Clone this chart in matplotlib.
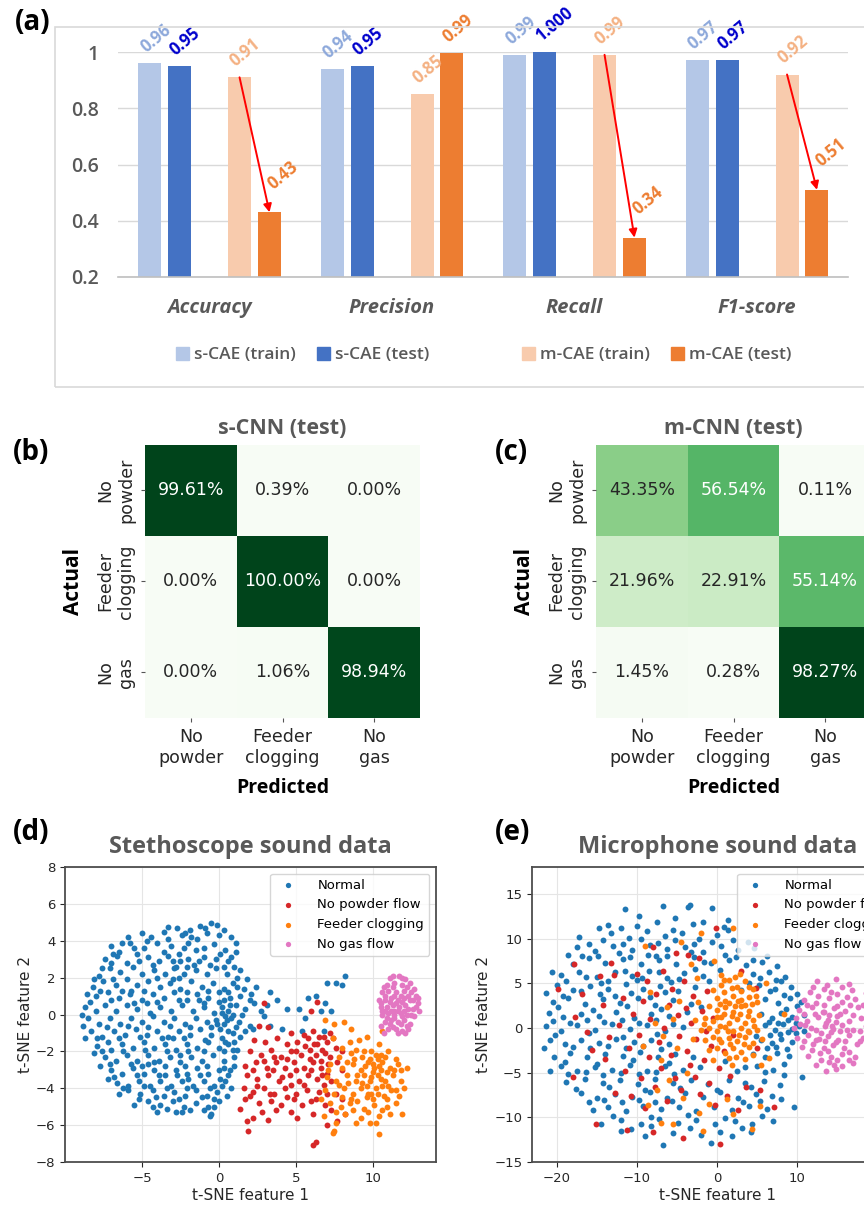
import numpy as np
import matplotlib.pyplot as plt
import seaborn as sns
from matplotlib.patches import Rectangle, Patch

plt.rcParams['font.family'] = ['DejaVu Sans']

W, H = 864, 1207

# ---------------- panel (a) data ----------------
metrics = ['Accuracy', 'Precision', 'Recall', 'F1-score']
series_names = ['s-CAE (train)', 's-CAE (test)', 'm-CAE (train)', 'm-CAE (test)']
s_cae_train = [0.96, 0.94, 0.99, 0.97]
s_cae_test = [0.95, 0.95, 1.00, 0.97]
m_cae_train = [0.91, 0.85, 0.99, 0.92]
m_cae_test = [0.43, 0.995, 0.34, 0.51]
s_cae_train_lbl = ['0.96', '0.94', '0.99', '0.97']
s_cae_test_lbl = ['0.95', '0.95', '1.000', '0.97']
m_cae_train_lbl = ['0.91', '0.85', '0.99', '0.92']
m_cae_test_lbl = ['0.43', '0.99', '0.34', '0.51']
drop_arrow = [True, False, True, True]

# ---------------- panel (b), (c) data ----------------
classes = ['No\npowder', 'Feeder\nclogging', 'No\ngas']
cm_s = [[99.61, 0.39, 0.00],
        [0.00, 100.00, 0.00],
        [0.00, 1.06, 98.94]]
cm_m = [[43.35, 56.54, 0.11],
        [21.96, 22.91, 55.14],
        [1.45, 0.28, 98.27]]

# ---------------- panel (d) data (t-SNE, stethoscope) ----------------
steth_normal = [
    (-2.7, 4.7), (-1.9, 4.6), (-0.5, 4.95), (-0.1, 4.85), (-1.2, 4.8), (-3.3, 4.75),
    (-5.0, 4.4), (-4.4, 4.2), (-3.6, 4.5), (-2.4, 4.3), (-1.4, 4.1), (-0.8, 4.4), (0.3, 4.6), (0.8, 4.2), (1.1, 3.9), (-6.3, 3.9),
    (-7.0, 3.7), (-5.8, 3.9), (-4.9, 3.6), (-4.0, 3.9), (-3.1, 3.7), (-2.0, 3.9), (-0.3, 3.8), (0.4, 3.5), (1.1, 3.4), (-1.5, 3.5), (-5.3, 3.3), (-2.6, 3.3),
    (-7.4, 3.0), (-6.6, 3.2), (-6.0, 2.8), (-4.6, 3.1), (-3.9, 2.9), (-3.3, 3.2), (-2.5, 2.9), (-2.0, 3.0), (-1.6, 2.7), (-1.0, 3.1), (-0.2, 3.0), (0.6, 2.9), (1.0, 2.6), (-2.8, 2.6), (-4.3, 2.7),
    (-7.8, 2.1), (-7.1, 2.5), (-6.4, 2.3), (-5.6, 2.6), (-5.0, 2.2), (-4.2, 2.4), (-3.5, 2.2), (-2.9, 2.5), (-2.3, 2.2), (-1.5, 2.4), (-0.8, 2.2), (-0.2, 2.5), (0.5, 2.2), (1.2, 2.0), (-6.9, 1.9), (-3.0, 1.9),
    (-8.2, 1.5), (-7.5, 1.8), (-6.7, 1.6), (-6.0, 1.9), (-5.3, 1.6), (-4.6, 1.8), (-3.8, 1.5), (-3.2, 1.7), (-2.5, 1.4), (-1.8, 1.8), (-1.1, 1.5), (-0.4, 1.7), (0.3, 1.4), (0.9, 1.7), (1.6, 1.4), (2.4, 1.5), (-5.7, 1.3),
    (-8.0, 1.0), (-7.2, 1.2), (-6.5, 0.9), (-5.8, 1.1), (-5.0, 0.8), (-4.3, 1.1), (-3.6, 0.9), (-2.9, 1.2), (-2.1, 0.8), (-1.4, 1.1), (-0.7, 0.9), (0.0, 1.2), (0.7, 0.9), (1.4, 1.0), (2.0, 0.8), (-4.7, 0.6), (-1.0, 0.6),
    (-8.7, 0.4), (-8.0, 0.2), (-7.4, 0.5), (-6.7, 0.2), (-6.0, 0.5), (-5.3, 0.3), (-4.5, 0.1), (-3.8, 0.4), (-3.1, 0.2), (-2.4, 0.5), (-1.7, 0.2), (-1.0, 0.4), (-0.3, 0.1), (0.2, 0.4), (0.6, 0.2), (1.1, 0.5), (1.7, 0.3), (2.3, 0.6), (2.7, 0.2), (0.0, 0.7), (0.4, -0.1),
    (-8.5, -0.2), (-7.8, -0.5), (-7.1, -0.2), (-6.4, -0.5), (-5.7, -0.2), (-5.0, -0.4), (-4.3, -0.1), (-3.6, -0.4), (-2.9, -0.2), (-2.2, -0.5), (-1.5, -0.2), (-0.8, -0.4), (-0.2, -0.3), (0.3, -0.5), (0.8, -0.2), (1.3, -0.4), (2.0, -0.6), (0.1, -0.8), (0.6, -0.9),
    (-8.3, -0.9), (-7.6, -1.2), (-6.8, -0.9), (-6.1, -1.1), (-5.4, -0.8), (-4.7, -1.1), (-4.0, -0.9), (-3.3, -1.2), (-2.6, -0.9), (-1.9, -1.1), (-1.2, -0.8), (-0.5, -1.1), (0.2, -1.3), (0.9, -1.0), (1.4, -1.2), (-7.2, -1.5),
    (-7.9, -1.7), (-7.0, -1.9), (-6.3, -1.6), (-5.6, -1.8), (-4.9, -1.5), (-4.2, -1.8), (-3.5, -1.6), (-2.8, -1.9), (-2.1, -1.6), (-1.4, -1.8), (-0.7, -1.5), (0.0, -1.8), (0.6, -1.6), (1.2, -1.9), (-3.0, -1.3),
    (-7.4, -2.3), (-6.7, -2.5), (-6.0, -2.2), (-5.3, -2.5), (-4.6, -2.2), (-3.9, -2.5), (-3.2, -2.3), (-2.5, -2.6), (-1.8, -2.3), (-1.1, -2.5), (-0.4, -2.2), (0.3, -2.5), (1.0, -2.3), (-5.0, -2.8), (-2.0, -2.0),
    (-7.0, -3.0), (-6.3, -3.2), (-5.6, -2.9), (-4.9, -3.2), (-4.2, -3.0), (-3.5, -3.3), (-2.8, -3.0), (-2.1, -3.2), (-1.4, -2.9), (-0.7, -3.2), (0.0, -3.0), (0.6, -3.3), (-4.6, -2.7),
    (-6.6, -3.7), (-5.9, -3.9), (-5.2, -3.6), (-4.5, -3.9), (-3.8, -3.6), (-3.1, -3.9), (-2.4, -3.6), (-1.7, -3.9), (-1.0, -3.6), (-0.3, -3.9), (0.4, -3.6), (0.8, -4.0), (-2.7, -3.3),
    (-5.9, -4.1), (-5.1, -4.3), (-4.3, -4.1), (-3.6, -4.4), (-2.9, -4.2), (-2.2, -4.4), (-1.5, -4.1), (-0.8, -4.4), (-0.1, -4.2), (0.5, -4.4),
    (-4.6, -4.7), (-3.8, -4.9), (-3.0, -4.7), (-2.3, -5.0), (-1.5, -4.8), (-0.7, -5.0), (0.0, -4.7), (-3.4, -5.1),
    (-2.4, -5.3), (-0.5, -5.4), (-0.6, -5.5), (-1.9, -5.2),
    (3.3, 1.2), (3.1, 0.5), (3.8, 0.8), (4.4, 0.3), (5.2, 0.3), (5.6, -0.2), (5.8, 0.9), (6.3, 1.0), (6.6, 0.2), (7.0, 1.7), (7.6, 1.7),
    (7.3, 0.2), (8.2, 2.1), (8.0, 1.6), (4.1, -0.8), (5.4, -0.9), (3.3, -0.6), (6.8, -0.9), (2.9, -0.1), (2.2, -0.8), (1.8, 1.9), (6.9, 0.6),
]
steth_normal += [
    (-2.2, 4.4), (-0.9, 4.7), (-4.7, 4.0), (-3.3, 4.1), (-1.8, 4.2), (0.0, 4.3),
    (-6.5, 3.4), (-5.5, 3.6), (-3.6, 3.4), (-2.3, 3.6), (-1.0, 3.6), (0.1, 3.3), (0.8, 3.1),
    (-7.0, 2.8), (-5.2, 2.9), (-3.0, 2.9), (-2.1, 2.6), (-1.3, 2.9), (-0.6, 2.7), (0.3, 2.6), (1.4, 2.4), (-2.6, 2.0),
    (-7.7, 1.3), (-6.3, 1.3), (-4.9, 1.3), (-4.0, 2.0), (-2.1, 1.2), (-0.7, 1.3), (0.6, 1.2), (1.2, 1.5), (2.1, 1.1),
    (-8.4, 0.7), (-7.0, 0.8), (-5.5, 0.6), (-4.0, 0.7), (-2.6, 0.8), (-1.3, 0.8), (0.3, 0.8), (0.9, 0.0), (1.5, 0.0),
    (0.2, 0.1), (0.5, -0.3), (-0.1, -0.5), (0.7, 0.5),
    (-8.8, -0.6), (-7.3, -0.7), (-5.9, -0.6), (-4.6, -0.7), (-3.2, -0.6), (-1.9, -0.7), (-0.5, -0.7), (1.1, -0.7), (1.7, -0.9),
    (-7.9, -1.3), (-6.5, -1.3), (-5.1, -1.2), (-3.7, -1.3), (-2.3, -1.3), (-0.9, -1.4), (0.4, -1.5), (1.0, -1.5),
    (-7.6, -2.0), (-6.2, -2.0), (-4.8, -1.9), (-3.4, -2.0), (-2.5, -2.2), (-1.0, -2.0), (0.3, -2.0), (0.9, -1.9),
    (-7.1, -2.7), (-5.7, -2.7), (-4.2, -2.6), (-3.5, -2.8), (-2.2, -2.8), (-0.8, -2.8), (0.3, -2.9), (1.0, -2.8),
    (-6.8, -3.4), (-5.3, -3.3), (-3.9, -3.3), (-2.0, -3.5), (-1.2, -3.3), (0.1, -3.5), (0.7, -3.0),
    (-6.2, -4.0), (-4.9, -3.9), (-3.4, -4.0), (-2.1, -4.0), (-0.6, -4.0), (0.2, -3.9),
    (-5.2, -4.6), (-4.1, -4.5), (-2.6, -4.6), (-1.1, -4.5), (-0.3, -4.6),
    (-4.3, -5.0), (-2.8, -5.3), (-1.0, -5.2), (-0.3, -5.0),
    (-5.9, 4.2), (-6.9, 3.3), (-7.6, 2.5), (-8.1, 1.9), (-8.6, 1.1), (-8.9, 0.0), (-8.7, -1.3),
    (-8.1, -2.1), (-7.7, -2.8), (-7.2, -3.5), (-6.5, -4.3), (-5.5, -4.9), (-4.0, -5.3),
]
steth_no_powder = [
    (2.9, 0.6), (6.0, 0.2), (6.4, 0.7), (2.6, -0.6), (3.2, -0.7),
    (4.7, -1.0), (5.5, -1.1), (6.1, -0.9), (6.8, -1.2), (7.2, -1.0),
    (2.3, -1.4), (3.0, -1.5), (3.8, -1.3), (4.4, -1.6), (5.1, -1.5), (5.8, -1.3), (6.4, -1.6), (7.0, -1.5), (7.6, -1.8),
    (2.0, -2.0), (2.7, -2.2), (3.4, -1.9), (4.0, -2.3), (4.7, -2.0), (5.3, -2.2), (5.9, -1.9), (6.3, -2.2), (6.7, -1.9), (7.2, -2.3), (8.0, -2.0),
    (1.7, -2.8), (2.4, -2.6), (3.1, -2.9), (3.7, -2.6), (4.3, -2.9), (4.9, -2.6), (5.5, -2.9), (6.1, -2.6), (6.6, -2.9), (7.1, -2.7), (7.7, -2.6),
    (1.8, -3.3), (2.5, -3.5), (3.2, -3.3), (3.9, -3.6), (4.6, -3.3), (5.2, -3.6), (5.8, -3.3), (6.4, -3.5), (7.0, -3.2),
    (1.6, -4.0), (2.2, -4.2), (2.9, -4.0), (3.6, -4.3), (4.3, -4.0), (5.0, -4.3), (5.7, -4.1), (6.5, -4.2), (7.6, -4.3),
    (1.7, -4.6), (2.6, -4.8), (3.4, -4.7), (4.0, -4.9), (4.9, -4.6), (6.0, -4.7), (6.9, -4.9), (8.0, -4.6),
    (1.4, -5.1), (2.2, -5.6), (1.8, -5.8), (3.2, -5.7), (4.7, -5.3), (6.1, -5.4), (7.3, -5.2), (7.7, -5.8), (8.2, -5.4),
    (1.9, -6.3), (6.1, -7.1), (6.3, -6.9), (7.0, -6.0),
    (5.9, -2.4), (6.2, -1.6), (6.6, -2.5), (6.9, -2.1), (6.0, -3.0), (5.6, -1.7), (6.5, -1.2), (7.4, -1.3), (5.0, -2.0),
    (4.4, -2.4), (3.6, -2.3), (2.9, -2.5), (2.2, -3.0), (3.5, -3.0), (4.1, -3.4), (5.0, -3.0), (5.5, -3.8), (6.8, -3.8),
    (4.7, -3.8), (3.3, -4.3), (2.5, -3.9), (2.0, -4.4), (4.4, -4.5), (5.4, -4.9), (6.3, -4.6), (7.0, -4.3), (3.7, -5.2),
    (2.8, -5.3), (5.1, -5.6), (7.3, -3.6), (6.7, -3.3), (8.0, -3.0),
]
steth_clogging = [
    (6.9, -0.3), (7.5, -0.5), (8.1, -0.4), (8.6, -0.8), (7.4, -1.3), (9.1, -1.4), (9.6, -1.2), (10.4, -1.6), (10.6, -0.9), (8.0, -1.8),
    (7.8, -2.3), (8.6, -2.1), (9.3, -2.3), (9.9, -2.0), (10.5, -2.2), (11.0, -2.0), (11.5, -2.4), (8.9, -1.9),
    (7.2, -2.7), (8.0, -2.9), (8.7, -2.7), (9.2, -3.0), (9.7, -2.6), (10.1, -2.9), (10.6, -2.6), (11.1, -2.9), (11.6, -2.7), (12.2, -2.9), (10.3, -2.4), (9.5, -2.8),
    (7.0, -3.4), (7.6, -3.6), (8.3, -3.3), (8.9, -3.6), (9.4, -3.3), (9.8, -3.6), (10.3, -3.3), (10.8, -3.6), (11.3, -3.3), (11.8, -3.6), (10.0, -3.1), (10.6, -3.9), (9.6, -3.9),
    (6.9, -4.1), (7.5, -4.3), (8.1, -4.0), (8.7, -4.3), (9.2, -4.0), (9.7, -4.3), (10.2, -4.0), (10.7, -4.4), (11.2, -4.1), (11.7, -4.4), (10.0, -4.6), (9.0, -4.7),
    (7.2, -4.8), (7.9, -5.0), (8.5, -4.8), (9.4, -5.1), (10.1, -4.9), (10.9, -5.0), (11.5, -4.8), (8.2, -5.4), (9.2, -5.6), (10.4, -5.5), (11.9, -5.4),
    (7.6, -5.9), (8.9, -5.9), (9.8, -5.9), (7.5, -6.3), (7.4, -6.4), (10.4, -6.5), (6.8, -5.5), (6.6, -4.6), (8.4, -3.7), (9.9, -4.3), (10.5, -3.0),
    (9.8, -2.4), (10.2, -2.2), (10.8, -2.3), (9.4, -2.0), (10.0, -2.7), (10.4, -2.8), (10.9, -3.1), (9.9, -3.4), (10.5, -3.5),
    (11.0, -3.9), (9.3, -3.7), (9.6, -4.5), (10.3, -4.3), (10.9, -4.6), (8.6, -4.6), (8.0, -4.5), (7.8, -3.8), (8.3, -2.6),
    (11.4, -3.0), (11.8, -3.0), (11.5, -4.1), (10.6, -5.2), (9.7, -5.3), (8.7, -5.2), (7.6, -5.3), (10.2, -5.9), (11.1, -5.4),
    (7.1, -3.0), (8.5, -1.5), (12.0, -4.0), (9.0, -3.3), (8.8, -2.4),
]
steth_no_gas = [
    (11.1, 2.0), (11.7, 2.1), (12.1, 1.9), (10.9, 1.6), (11.4, 1.7), (11.9, 1.6), (12.4, 1.7),
    (10.6, 1.2), (11.0, 1.3), (11.5, 1.2), (12.0, 1.3), (12.5, 1.2), (12.8, 1.0),
    (10.4, 0.8), (10.8, 0.8), (11.2, 0.9), (11.6, 0.8), (12.0, 0.9), (12.4, 0.8), (12.9, 0.6),
    (10.5, 0.4), (10.9, 0.4), (11.3, 0.5), (11.7, 0.4), (12.1, 0.5), (12.6, 0.3),
    (10.6, 0.0), (11.0, 0.1), (11.4, 0.0), (11.8, 0.1), (12.2, 0.0), (12.7, -0.1),
    (10.8, -0.4), (11.2, -0.3), (11.6, -0.4), (12.0, -0.3), (12.4, -0.5),
    (11.0, -0.8), (11.5, -0.8), (11.9, -0.9), (12.3, -0.8), (10.7, -1.0),
    (11.3, 1.5), (11.8, 1.0), (11.4, 0.2), (12.3, 0.3), (11.9, -0.1), (11.1, -0.5), (12.6, 0.8), (10.6, 0.2),
    (11.3, 2.1), (11.9, 2.0), (10.7, 1.5), (12.2, 1.5), (12.7, 1.4), (10.8, 1.0), (11.4, 1.0), (12.3, 1.0),
    (10.5, 0.6), (11.1, 0.7), (11.5, 0.6), (11.9, 0.7), (12.8, 0.4), (10.8, 0.2), (11.2, 0.2), (11.6, 0.2),
    (12.0, 0.2), (12.5, 0.0), (10.9, -0.2), (11.4, -0.2), (11.8, -0.5), (12.2, -0.6), (11.3, -0.7), (10.5, -0.6),
    (12.1, -1.0), (11.6, -1.0), (13.0, 0.2), (12.9, 0.9),
]

# ---------------- panel (e) data (t-SNE, microphone) ----------------
mic_normal = [
    (-11.5, 13.3), (-6.8, 13.6), (-3.4, 13.8), (-0.6, 13.4), (1.3, 12.1), (-3.6, 13.5),
    (-13.6, 11.5), (-9.8, 12.5), (-7.5, 11.8), (-5.2, 12.3), (-1.8, 11.9), (1.4, 11.0), (-12.0, 11.2),
    (-16.0, 9.4), (-13.2, 10.6), (-11.0, 10.1), (-8.7, 10.8), (-6.5, 10.3), (-4.4, 10.6), (-2.2, 10.0), (0.0, 10.4), (2.0, 9.8), (3.9, 9.6),
    (-17.5, 9.0), (-15.3, 8.6), (-13.0, 9.2), (-10.6, 8.7), (-8.4, 9.3), (-6.2, 8.8), (-4.0, 9.1), (-1.7, 8.5), (0.5, 9.2), (2.6, 8.7), (4.6, 8.9),
    (-18.0, 7.2), (-16.0, 7.8), (-14.0, 7.3), (-11.8, 7.7), (-9.5, 7.1), (-7.3, 7.6), (-5.1, 7.2), (-2.9, 7.9), (-0.7, 7.3), (1.5, 7.6), (3.6, 7.0), (5.6, 7.4), (7.5, 6.9),
    (-19.5, 5.9), (-17.2, 6.3), (-15.0, 5.7), (-12.8, 6.2), (-10.6, 5.8), (-8.5, 6.4), (-6.3, 5.6), (-4.1, 6.1), (-1.8, 5.8), (0.3, 6.5), (4.5, 6.0), (6.5, 6.3), (8.5, 5.7),
    (-20.0, 4.8), (-18.0, 4.2), (-15.8, 4.7), (-13.6, 4.3), (-11.4, 4.9), (-9.3, 4.4), (-7.1, 4.7), (-4.9, 4.1), (-2.7, 4.6), (3.0, 4.2), (5.2, 4.8), (7.2, 4.3), (9.2, 4.6),
    (-20.5, 2.9), (-18.6, 3.3), (-16.5, 2.7), (-14.3, 3.2), (-12.1, 2.8), (-9.9, 3.4), (-7.7, 2.6), (-5.5, 3.1), (-3.3, 2.7), (6.0, 3.2), (7.6, 2.8), (9.1, 3.3), (10.5, 2.9),
    (-21.0, 1.7), (-19.2, 1.2), (-17.0, 1.6), (-14.8, 1.3), (-12.6, 1.8), (-10.4, 1.1), (-8.2, 1.6), (-6.0, 1.3), (-3.8, 1.8), (5.5, 1.6), (6.8, 1.1), (8.0, 1.7), (9.4, 1.2), (10.8, 1.5),
    (-21.4, 0.2), (-19.5, -0.3), (-17.5, 0.3), (-15.3, -0.2), (-13.1, 0.4), (-10.9, -0.1), (-8.7, 0.3), (-6.5, -0.3), (-4.3, 0.1), (6.0, 0.3), (7.2, -0.2), (8.2, 0.4), (9.3, -0.1), (10.2, 0.2),
    (-20.8, -1.3), (-19.0, -1.8), (-17.0, -1.4), (-14.8, -1.7), (-12.6, -1.2), (-10.4, -1.6), (-8.2, -1.3), (-6.0, -1.8), (5.5, -1.4), (6.8, -1.7), (8.0, -1.2), (9.3, -1.6),
    (-20.3, -3.2), (-18.4, -2.8), (-16.2, -3.3), (-14.0, -2.9), (-11.8, -3.1), (-9.6, -2.7), (-7.4, -3.3), (-5.2, -2.9), (-3.0, -3.2), (4.5, -2.9), (6.0, -3.3), (7.5, -2.8), (9.0, -3.1),
    (-19.5, -4.3), (-17.5, -4.8), (-15.3, -4.4), (-13.1, -4.7), (-10.9, -4.2), (-8.7, -4.8), (-6.5, -4.3), (-4.3, -4.7), (-2.1, -4.4), (2.5, -4.8), (5.0, -4.3), (7.0, -4.7), (10.6, -5.5),
    (-18.8, -6.1), (-16.5, -5.7), (-14.3, -6.2), (-12.1, -5.8), (-9.9, -6.3), (-7.7, -5.7), (-5.5, -6.2), (-3.3, -5.8), (-1.1, -6.3), (1.5, -5.8), (3.5, -6.2), (5.8, -5.9), (7.8, -6.4),
    (-17.0, -7.3), (-15.0, -7.8), (-12.8, -7.4), (-10.6, -7.7), (-8.4, -7.2), (-6.2, -7.8), (-4.0, -7.3), (-1.8, -7.7), (0.4, -7.2), (2.6, -7.8), (4.8, -7.4), (6.8, -7.6),
    (-15.5, -9.2), (-13.6, -8.8), (-11.4, -9.3), (-9.2, -8.7), (-7.0, -9.1), (-4.8, -8.8), (-2.6, -9.3), (-0.4, -8.9), (1.8, -9.2), (4.0, -8.7), (6.2, -9.1), (9.6, -8.8),
    (-14.5, -10.8), (-12.0, -10.3), (-9.5, -10.7), (-7.2, -10.2), (-4.9, -10.6), (-2.6, -10.3), (-0.3, -10.8), (2.2, -10.4), (4.4, -10.7), (7.0, -10.4),
    (-12.0, -11.5), (-9.0, -12.1), (-5.5, -11.8), (-2.0, -12.0), (1.8, -12.1), (4.2, -11.6), (-6.8, -13.1),
    (-14.8, 11.2), (-10.0, 11.4), (-5.5, 11.0), (-3.0, 11.6), (0.9, 11.3),
    (-16.8, 8.1), (-12.2, 8.4), (-7.6, 8.0), (-3.3, 8.5), (1.0, 8.2), (6.2, 8.0),
    (-18.8, 5.3), (-14.5, 5.0), (-10.0, 5.4), (-5.8, 5.1), (-1.0, 5.3), (4.0, 5.0), (8.0, 5.3),
    (-19.8, 2.3), (-15.5, 2.0), (-11.2, 2.4), (-7.0, 2.1), (-2.0, 2.3), (8.6, 2.1), (10.0, 2.4),
    (-20.2, -0.8), (-16.0, -0.6), (-11.8, -1.0), (-7.5, -0.7), (6.6, -0.8), (8.8, -0.5), (4.8, -0.9),
    (-19.0, -3.8), (-15.0, -4.0), (-10.5, -3.6), (-6.0, -3.9), (1.0, -3.7), (8.3, -4.0),
    (-17.6, -6.8), (-13.5, -6.6), (-9.0, -7.0), (-4.6, -6.7), (0.0, -6.9), (4.2, -6.6),
    (-13.0, -9.8), (-8.3, -10.0), (-3.6, -9.7), (1.0, -10.1), (5.6, -9.9),
]
mic_normal += [
    (-17.2, 10.2), (-14.2, 9.8), (-11.8, 9.4), (-9.5, 10.0), (-7.4, 9.5), (-5.3, 9.8), (-2.9, 9.4), (-0.6, 9.6),
    (-18.6, 8.2), (-14.9, 8.1), (-10.9, 7.9), (-8.6, 8.2), (-6.3, 8.1), (-1.6, 7.4), (2.4, 7.9), (4.5, 7.6),
    (-20.6, 6.2), (-16.3, 5.7), (-13.6, 5.2), (-11.5, 6.4), (-9.4, 5.6), (-7.2, 6.2), (-4.8, 5.5), (-2.8, 6.6), (5.4, 5.6), (7.3, 5.4),
    (-21.3, 3.9), (-19.2, 3.6), (-17.0, 4.1), (-14.6, 3.8), (-12.7, 3.6), (-10.7, 3.9), (-8.4, 3.5), (-6.5, 4.0), (6.6, 4.1), (8.3, 3.7), (10.0, 3.8),
    (-20.5, 0.8), (-18.3, 0.6), (-16.2, 0.9), (-14.1, 0.7), (-11.9, 0.9), (-9.8, 0.6), (-7.6, 0.9), (-5.5, 0.4),
    (7.6, 0.6), (8.8, 0.9), (9.9, 0.6), (6.5, 0.7), (7.8, -0.7), (9.8, -0.6), (10.9, -0.3),
    (-21.6, -2.2), (-18.0, -2.1), (-15.9, -2.3), (-13.6, -2.0), (-11.4, -2.3), (-9.2, -2.0), (-7.0, -2.4), (6.2, -2.2), (7.4, -2.1), (8.7, -2.4),
    (-20.8, -4.8), (-18.6, -5.2), (-16.4, -4.9), (-14.2, -5.3), (-12.0, -5.0), (-9.8, -5.1), (-7.6, -4.9), (-5.4, -5.1), (3.5, -4.4), (6.0, -4.9), (8.3, -5.3),
    (-16.0, -8.3), (-14.1, -8.1), (-11.9, -8.3), (-9.8, -8.1), (-7.7, -8.3), (-5.6, -8.2), (3.2, -8.3), (5.3, -8.2), (8.0, -8.0),
    (-10.8, -11.3), (-8.3, -11.0), (-3.4, -11.2), (0.3, -11.6), (3.1, -11.2), (-0.8, -12.9),
]
mic_no_powder = [
    (-19.9, 4.4), (-17.9, 7.1), (-17.7, 1.2), (-16.2, -0.5), (-15.6, -2.5), (-14.6, 5.8), (-14.3, 2.6), (-14.0, -3.5),
    (-13.2, 7.3), (-12.9, 5.9), (-13.5, -1.0), (-12.8, -7.3), (-12.2, 0.3), (-11.8, 3.4), (-11.5, -4.8), (-11.0, -2.2),
    (-11.3, -11.4), (-10.8, -7.6), (-10.5, 1.6), (-10.0, 6.0), (-9.8, -0.8), (-9.5, -5.6), (-9.3, 3.0), (-9.0, -9.0),
    (-8.8, 5.2), (-8.5, -3.3), (-8.4, 1.0), (-8.0, 9.0), (-7.8, -6.6), (-7.6, 3.8), (-7.3, -1.6), (-7.0, -4.5),
    (-6.8, 6.4), (-6.6, 0.0), (-6.3, -8.2), (-6.0, 2.6), (-5.8, -3.0), (-5.6, 4.4), (-5.3, -5.6), (-5.1, 8.4),
    (-4.9, 1.5), (-4.7, -0.9), (-4.5, -7.0), (-4.3, -12.3), (-4.1, 5.2), (-3.9, 2.2), (-3.7, -2.6), (-3.4, -4.2),
    (-3.2, 0.6), (-3.0, 3.6), (-2.8, -5.5), (-2.6, -1.2), (-2.3, 7.8), (-2.1, -7.4), (-1.9, 1.9), (-1.6, -3.6),
    (-1.4, -0.3), (-1.2, 4.1), (-1.0, -6.2), (-0.8, -2.0), (-0.5, 1.1), (-0.3, -8.6), (-0.1, 11.2), (0.2, -4.5),
    (0.4, -13.0), (0.8, -2.6), (1.2, -7.6), (1.6, -5.4), (2.0, -0.8), (2.6, -9.2), (3.0, 6.4), (3.6, -6.6),
    (4.8, 4.5), (5.0, -2.2), (5.4, -7.0), (7.1, -8.9), (-15.1, -10.8), (-18.0, -5.5), (-16.8, 3.8), (-8.0, -11.6), (-3.6, 8.2),
]
mic_clogging = [
    (-0.5, 4.2), (0.5, 4.8), (1.5, 5.4), (2.5, 4.6), (3.5, 5.2), (4.5, 4.4), (0.0, 3.4), (1.0, 3.0), (2.0, 3.6), (3.0, 3.1),
    (4.0, 3.5), (5.0, 2.9), (-1.0, 2.4), (0.0, 2.0), (1.0, 2.3), (2.0, 1.8), (3.0, 2.4), (4.0, 1.9), (5.2, 1.5), (-1.5, 1.1),
    (-0.5, 0.8), (0.5, 1.2), (1.5, 0.6), (2.5, 1.0), (3.5, 0.5), (4.5, 0.9), (-2.0, -0.2), (-1.0, 0.0), (0.0, -0.4), (1.0, 0.1),
    (2.0, -0.3), (3.0, 0.0), (4.0, -0.5), (5.0, -0.2), (-1.5, -1.3), (-0.5, -1.0), (0.5, -1.6), (1.5, -1.1), (2.5, -1.5), (3.5, -1.0),
    (4.5, -1.7), (-1.0, -2.5), (0.0, -2.2), (1.0, -2.8), (2.0, -2.3), (3.0, -2.7), (4.0, -2.1), (-0.5, -3.6), (1.5, -3.4), (3.5, -3.5),
    (0.5, 5.9), (2.8, 6.0), (1.8, -4.2), (-2.4, 2.9), (-2.8, 0.9), (5.6, -1.2), (4.8, 3.6), (0.3, 0.2), (2.2, 2.5), (3.8, -0.3),
    (0.8, 4.0), (1.8, 4.5), (3.0, 4.1), (4.0, 4.6), (0.4, 2.7), (1.5, 2.8), (2.6, 3.0), (3.5, 2.6), (4.4, 2.7), (0.8, 1.6),
    (1.8, 1.3), (2.9, 1.6), (3.9, 1.3), (0.0, 1.2), (1.3, -0.4), (2.7, -0.8), (3.3, -1.8), (1.6, -1.8), (0.2, -1.2), (-1.6, 0.4),
    (4.6, 0.2), (2.4, -3.3), (4.5, -3.0), (0.9, 5.4), (2.2, 5.7),
    (-9.0, 9.2), (-4.5, 9.6), (-2.5, 5.6), (-4.8, 3.0), (-5.5, 1.0), (-6.8, -0.9), (-7.8, 0.5), (-9.2, -2.0), (-5.0, -2.2), (-7.0, -3.6),
    (-3.8, -5.0), (-6.0, -5.8), (-4.2, -7.8), (-7.5, -7.0), (-8.6, -8.6), (-2.2, -9.5), (-1.8, -11.5), (-7.0, -10.6), (-5.5, -10.8), (-1.0, -8.5),
    (1.2, -8.0), (2.0, -9.6), (4.4, -11.3), (5.4, -8.7), (5.5, -4.2), (6.5, -3.4), (8.4, 1.6), (6.1, 5.0), (-3.3, 7.1), (-0.4, 7.5),
    (2.0, 11.2), (-2.0, 10.6), (-8.4, 4.0), (-3.0, -1.2), (-6.2, 2.3),
]
mic_no_gas = [
    (12.5, 5.2), (14.8, 5.5), (16.4, 4.9), (13.7, 4.8),
    (11.6, 4.0), (13.4, 4.3), (15.0, 3.8), (16.8, 4.2), (18.6, 3.9),
    (10.8, 3.1), (12.4, 2.8), (14.0, 3.3), (15.6, 2.9), (17.2, 3.2), (19.0, 2.8),
    (10.2, 2.0), (11.8, 2.3), (13.2, 1.8), (14.6, 2.2), (16.0, 1.9), (17.6, 2.3), (19.4, 1.8),
    (9.8, 1.1), (11.2, 0.8), (12.6, 1.2), (13.8, 0.9), (15.0, 1.3), (16.4, 0.8), (18.0, 1.1), (19.8, 0.9),
    (9.6, 0.0), (11.0, 0.3), (12.3, -0.2), (13.5, 0.2), (14.5, -0.1), (15.6, 0.3), (17.0, -0.2), (18.6, 0.2), (20.2, -0.1),
    (10.0, -1.1), (11.4, -0.8), (12.7, -1.2), (13.9, -0.9), (15.1, -1.3), (16.5, -0.8), (18.2, -1.1), (19.8, -0.9),
    (10.6, -2.1), (12.0, -1.8), (13.3, -2.2), (14.5, -1.9), (15.8, -2.3), (17.4, -1.8), (19.0, -2.1),
    (11.4, -3.1), (12.8, -2.8), (14.2, -3.3), (15.6, -2.9), (17.2, -3.2), (18.8, -2.8),
    (12.4, -4.1), (14.0, -3.8), (15.6, -4.3), (17.0, -3.9),
    (13.6, -4.8), (14.8, -4.6),
    (13.6, 0.6), (14.2, -0.5), (14.8, 0.7), (13.0, -0.6), (15.4, -0.3), (14.0, 1.5), (13.4, 1.8), (14.4, 0.2),
    (12.0, 4.6), (15.6, 4.6), (14.2, 4.0), (12.6, 3.6), (16.2, 3.5), (11.2, 2.6), (13.4, 2.6), (15.0, 2.5), (16.6, 2.6),
    (18.2, 2.6), (10.8, 1.6), (12.2, 1.6), (15.4, 1.6), (17.0, 1.5), (18.8, 1.3), (10.3, 0.4), (11.7, 0.0), (16.2, -0.2),
    (17.8, -0.3), (19.4, 0.2), (10.8, -1.5), (12.3, -1.4), (13.5, -1.5), (14.8, -1.6), (16.0, -1.5), (17.8, -1.5),
    (11.8, -2.5), (13.8, -2.6), (16.4, -2.7), (13.0, -3.6), (15.0, -3.6), (16.4, -3.6), (14.6, -4.2),
]
tsne_labels = ['Normal', 'No powder flow', 'Feeder clogging', 'No gas flow']
tsne_colors = ['tab:blue', 'tab:red', 'tab:orange', '#e377c2']


def rect(l, t, r, b):
    # pixel box (left, top, right, bottom) -> figure fraction rect
    return [l / W, 1 - b / H, (r - l) / W, (b - t) / H]


fig = plt.figure(figsize=(W / 100, H / 100), dpi=100)
GRAY = '#595959'
OS = 'Open Sans'

# ================= (a) bar chart =================
fig.add_artist(Rectangle((55 / W, 1 - 387 / H), (W - 40) / W, 360 / H,
                         transform=fig.transFigure, fill=False, ec='#D9D9D9', lw=1.2))
ax = fig.add_axes(rect(118, 52, 848, 277))
x = np.arange(len(metrics))
offsets = [-0.325, -0.163, 0.166, 0.330]
bw = 0.126
bar_colors = ['#B4C7E7', '#4472C4', '#F8CBAD', '#ED7D31']
text_colors = ['#8EA9DB', '#0000CC', '#F4B183', '#ED7D31']
all_vals = [s_cae_train, s_cae_test, m_cae_train, m_cae_test]
all_lbls = [s_cae_train_lbl, s_cae_test_lbl, m_cae_train_lbl, m_cae_test_lbl]

for k in range(4):
    ax.bar(x + offsets[k], np.array(all_vals[k]) - 0.2, bw, bottom=0.2,
           color=bar_colors[k], label=series_names[k], zorder=2)
    for i in range(len(metrics)):
        if k == 3 and drop_arrow[i]:
            off = (5, 14)
        else:
            off = (-1, 5)
        ax.annotate(all_lbls[k][i], (x[i] + offsets[k], all_vals[k][i]), xytext=off,
                    textcoords='offset points', rotation=40, rotation_mode='anchor',
                    ha='left', va='bottom', color=text_colors[k], fontsize=12,
                    fontweight='bold', family=OS, annotation_clip=False)

for i in range(len(metrics)):
    if drop_arrow[i]:
        ax.annotate('', xy=(x[i] + offsets[3], m_cae_test[i]),
                    xytext=(x[i] + offsets[2], m_cae_train[i]),
                    arrowprops=dict(arrowstyle='-|>', color='red', lw=1.4,
                                    mutation_scale=12, shrinkA=0, shrinkB=0), zorder=4)

ax.set_xlim(-0.5, 3.5)
ax.set_ylim(0.2, 1.0)
ax.set_yticks([0.2, 0.4, 0.6, 0.8, 1.0])
ax.set_yticklabels(['0.2', '0.4', '0.6', '0.8', '1'], family=OS, fontsize=14,
                   fontweight='semibold', color=GRAY)
ax.set_xticks(x)
ax.set_xticklabels(metrics, family=OS, fontsize=14.5, fontweight='bold',
                   style='italic', color=GRAY)
ax.tick_params(axis='y', length=0, pad=14)
ax.tick_params(axis='x', length=0, pad=15)
ax.grid(axis='y', color='#D9D9D9', lw=1)
ax.set_axisbelow(True)
for side in ['top', 'right', 'left']:
    ax.spines[side].set_visible(False)
ax.spines['bottom'].set_color('#BFBFBF')
ax.spines['bottom'].set_linewidth(1.2)

handles = [Patch(color=c) for c in bar_colors]
for j, cx in enumerate([303, 657]):
    fig.legend(handles[2 * j:2 * j + 2], series_names[2 * j:2 * j + 2], loc='center',
               bbox_to_anchor=(cx / W, 1 - 355 / H), ncol=2, frameon=False,
               prop={'family': OS, 'size': 12.5, 'weight': 'semibold'},
               handlelength=0.75, handleheight=0.75,
               handletextpad=0.3, columnspacing=1.2, labelcolor=GRAY)

fig.text(15 / W, 1 - 22 / H, '(a)', fontsize=20, fontweight='bold', family=OS,
         va='center', ha='left')

# ================= (b), (c) confusion matrices =================
def conf_matrix(axm, cm, title, vmin, vmax):
    annot = [[f'{v:.2f}%' for v in row] for row in cm]
    sns.heatmap(np.array(cm), ax=axm, cmap='Greens', annot=np.array(annot), fmt='',
                cbar=False, vmin=vmin, vmax=vmax, annot_kws={'size': 12.5})
    axm.set_xticklabels(classes, fontsize=12.5, rotation=0, color='#262626')
    axm.set_yticklabels(classes, fontsize=12.5, rotation=90, va='center', ha='center',
                        color='#262626')
    axm.tick_params(axis='y', pad=18, length=3, color='#555555')
    axm.tick_params(axis='x', pad=4, length=3, color='#555555')
    axm.set_title(title, family=OS, fontsize=15.5, fontweight='bold', color=GRAY, pad=8)
    axm.set_xlabel('Predicted', family=OS, fontsize=14, fontweight='bold', labelpad=8)
    axm.set_ylabel('Actual', family=OS, fontsize=15, fontweight='bold', labelpad=9)


ax_b = fig.add_axes(rect(145, 445, 420, 718))
conf_matrix(ax_b, cm_s, 's-CNN (test)', 0, 100)
ax_c = fig.add_axes(rect(596, 445, 871, 718))
conf_matrix(ax_c, cm_m, 'm-CNN (test)', None, None)
fig.text(13 / W, 1 - 453 / H, '(b)', fontsize=20, fontweight='bold', family=OS, va='center')
fig.text(495 / W, 1 - 453 / H, '(c)', fontsize=20, fontweight='bold', family=OS, va='center')

# ================= (d), (e) t-SNE scatter =================
def tsne_panel(axs, groups, title, xlim, ylim, xticks, yticks):
    for pts, c, lab in zip(groups, tsne_colors, tsne_labels):
        p = np.array(pts)
        axs.scatter(p[:, 0], p[:, 1], s=18, color=c, label=lab, zorder=2, lw=0)
    axs.set_xlim(*xlim)
    axs.set_ylim(*ylim)
    axs.set_xticks(xticks)
    axs.set_yticks(yticks)
    axs.grid(color='#E5E5E5', lw=0.8, zorder=0)
    axs.set_axisbelow(True)
    axs.tick_params(labelsize=9.5, colors='#262626')
    for sp in axs.spines.values():
        sp.set_color('#4D4D4D')
        sp.set_linewidth(1.3)
    axs.set_xlabel('t-SNE feature 1', fontsize=11, color='#262626', labelpad=2)
    axs.set_ylabel('t-SNE feature 2', fontsize=11, color='#262626', labelpad=2)
    axs.set_title(title, family=OS, fontsize=17, fontweight='bold', color=GRAY, pad=10)
    axs.legend(loc='upper right', fontsize=9.5, markerscale=0.9, framealpha=0.8,
               edgecolor='#CCCCCC', handletextpad=1.2)


ax_d = fig.add_axes(rect(65, 867, 436, 1162))
tsne_panel(ax_d, [steth_normal, steth_no_powder, steth_clogging, steth_no_gas],
           'Stethoscope sound data', (-10, 14.1), (-8, 8), [-5, 0, 5, 10], range(-8, 9, 2))
ax_e = fig.add_axes(rect(532, 867, 903, 1162))
tsne_panel(ax_e, [mic_normal, mic_no_powder, mic_clogging, mic_no_gas],
           'Microphone sound data', (-23.1, 23.2), (-15, 18), [-20, -10, 0, 10],
           range(-15, 16, 5))
fig.text(13 / W, 1 - 832 / H, '(d)', fontsize=20, fontweight='bold', family=OS, va='center')
fig.text(495 / W, 1 - 832 / H, '(e)', fontsize=20, fontweight='bold', family=OS, va='center')

fig.savefig('out.png', dpi=100)
